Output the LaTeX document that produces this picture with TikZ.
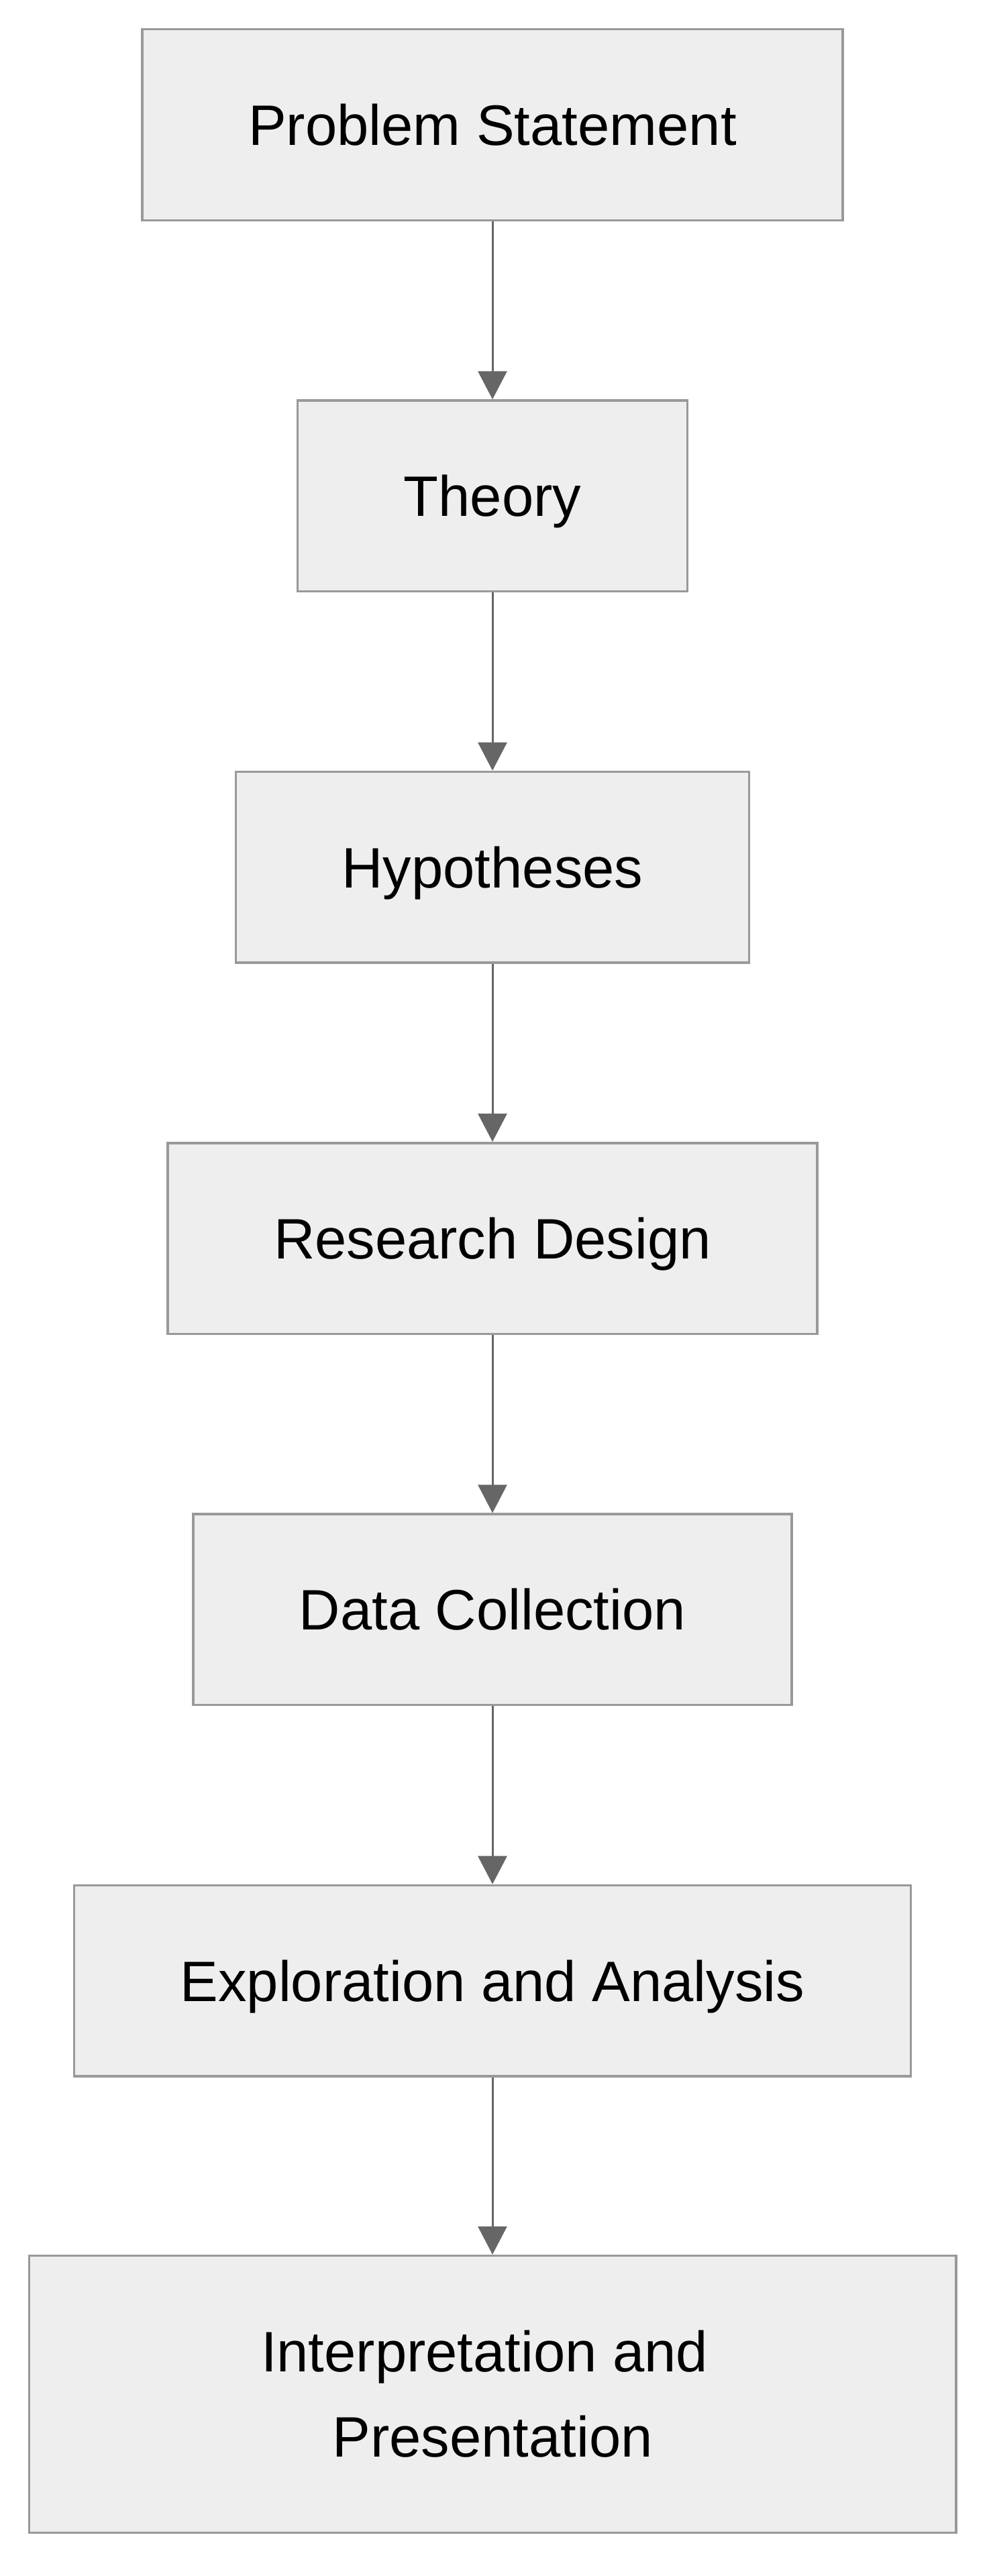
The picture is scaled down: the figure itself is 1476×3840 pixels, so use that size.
\documentclass[tikz,border=0pt]{standalone}
\usepackage{fontspec}
\setmainfont{Liberation Sans}
\usetikzlibrary{arrows.meta}
\definecolor{boxfill}{HTML}{EEEEEE}
\definecolor{boxline}{HTML}{999999}
\definecolor{arrowline}{HTML}{666666}
\tikzset{
  stage/.style={rectangle, draw=boxline, fill=boxfill, line width=3.5pt,
    minimum height=284.5pt, inner xsep=158pt, inner ysep=0pt,
    font=\fontsize{85}{127}\selectfont, text height=61pt, text depth=0pt},
  flow/.style={draw=arrowline, line width=3pt, -{Triangle[width=43pt,length=42pt]}}
}
\begin{document}
\begin{tikzpicture}[x=1pt, y=-1pt]
  \useasboundingbox (0,0) rectangle (1476,3840);
  \node[stage] (problem) at (734,186) {Problem Statement};
  \node[stage] (theory) at (734,739.3) {Theory};
  \node[stage] (hypo) at (734,1292.7) {Hypotheses};
  \node[stage] (design) at (734,1846) {Research Design};
  \node[stage] (collect) at (734,2399.3) {Data Collection};
  \node[stage] (explore) at (734,2952.7) {Exploration and Analysis};
  \node[stage, align=center, inner xsep=0pt, minimum width=1381.5pt, minimum height=413pt,
    text height={}, text depth={}] (present) at (734,3569) {Interpretation and\kern0.278em\\Presentation};
  % Draw the steps in order
  \draw[flow] (problem) -- (theory);
  \draw[flow] (theory) -- (hypo);
  \draw[flow] (hypo) -- (design);
  \draw[flow] (design) -- (collect);
  \draw[flow] (collect) -- (explore);
  \draw[flow] (explore) -- (present);
\end{tikzpicture}
\end{document}
